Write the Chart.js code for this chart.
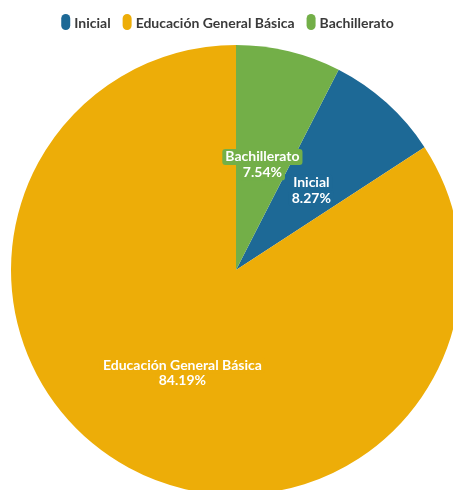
<!DOCTYPE html>
<html>
<head>
<meta charset="utf-8">
<script src="https://cdn.jsdelivr.net/npm/chart.js@4/dist/chart.umd.min.js"></script>
<style>
html,body{margin:0;padding:0;background:#fff;overflow:hidden;width:453px;height:490px;}
#wrap{position:absolute;left:0;top:0;width:472px;height:500px;}
</style>
</head>
<body>
<div id="wrap"><canvas id="c" width="472" height="500"></canvas></div>
<script>
const categories = ["Inicial", "Educación General Básica", "Bachillerato"];
const values = [8.27, 84.19, 7.54];
const colors = ["#1D6996", "#EDAD08", "#73AF48"];
const valueLabels = ["8.27%", "84.19%", "7.54%"];

const FONT = 'bold 14px Lato, "Open Sans", sans-serif';

function roundRect(ctx, x, y, w, h, r) {
  ctx.beginPath();
  ctx.moveTo(x + r, y);
  ctx.lineTo(x + w - r, y);
  ctx.arcTo(x + w, y, x + w, y + r, r);
  ctx.lineTo(x + w, y + h - r);
  ctx.arcTo(x + w, y + h, x + w - r, y + h, r);
  ctx.lineTo(x + r, y + h);
  ctx.arcTo(x, y + h, x, y + h - r, r);
  ctx.lineTo(x, y + r);
  ctx.arcTo(x, y, x + r, y, r);
  ctx.closePath();
}

const legendPlugin = {
  id: 'customLegend',
  afterDraw(chart) {
    const ctx = chart.ctx;
    ctx.save();
    ctx.font = FONT;
    ctx.textBaseline = 'middle';
    const mw = 9, mh = 16, gapMT = 4, gapItems = 12;
    let total = 0;
    const widths = categories.map(c => ctx.measureText(c).width);
    widths.forEach((w, i) => { total += mw + gapMT + w + (i < widths.length - 1 ? gapItems : 0); });
    let x = 227.5 - total / 2;
    const y = 22;
    categories.forEach((c, i) => {
      ctx.fillStyle = colors[i];
      roundRect(ctx, x, y - mh / 2, mw, mh, mw / 2);
      ctx.fill();
      x += mw + gapMT;
      ctx.fillStyle = '#3a3a3a';
      ctx.textAlign = 'left';
      ctx.fillText(c, x, y + 1);
      x += widths[i] + gapItems;
    });
    ctx.restore();
  }
};

const labelPlugin = {
  id: 'sliceLabels',
  afterDatasetsDraw(chart) {
    const ctx = chart.ctx;
    const meta = chart.getDatasetMeta(0);
    ctx.save();
    ctx.font = FONT;
    ctx.textAlign = 'center';
    ctx.textBaseline = 'middle';
    meta.data.forEach((arc, i) => {
      const p = arc.getCenterPoint();
      const lines = [categories[i], valueLabels[i]];
      const lh = 15.5;
      const y0 = p.y - lh / 2 + 4;
      lines.forEach((t, j) => {
        const w = ctx.measureText(t).width;
        const ly = y0 + j * lh;
        ctx.fillStyle = colors[i];
        roundRect(ctx, p.x - w / 2 - 3, ly - 8, w + 6, 16, 3);
        ctx.fill();
      });
      lines.forEach((t, j) => {
        ctx.fillStyle = '#ffffff';
        ctx.fillText(t, p.x, y0 + j * lh);
      });
    });
    ctx.restore();
  }
};

new Chart(document.getElementById('c'), {
  type: 'pie',
  data: {
    labels: categories,
    datasets: [{
      data: values,
      backgroundColor: colors,
      borderWidth: 0,
      hoverOffset: 0
    }]
  },
  options: {
    responsive: false,
    animation: false,
    devicePixelRatio: 1,
    rotation: values[2] / 100 * 360,
    radius: 225,
    layout: { padding: { top: 40, left: 0, right: 0, bottom: 0 } },
    plugins: {
      legend: { display: false },
      tooltip: { enabled: false }
    }
  },
  plugins: [legendPlugin, labelPlugin]
});
</script>
</body>
</html>
